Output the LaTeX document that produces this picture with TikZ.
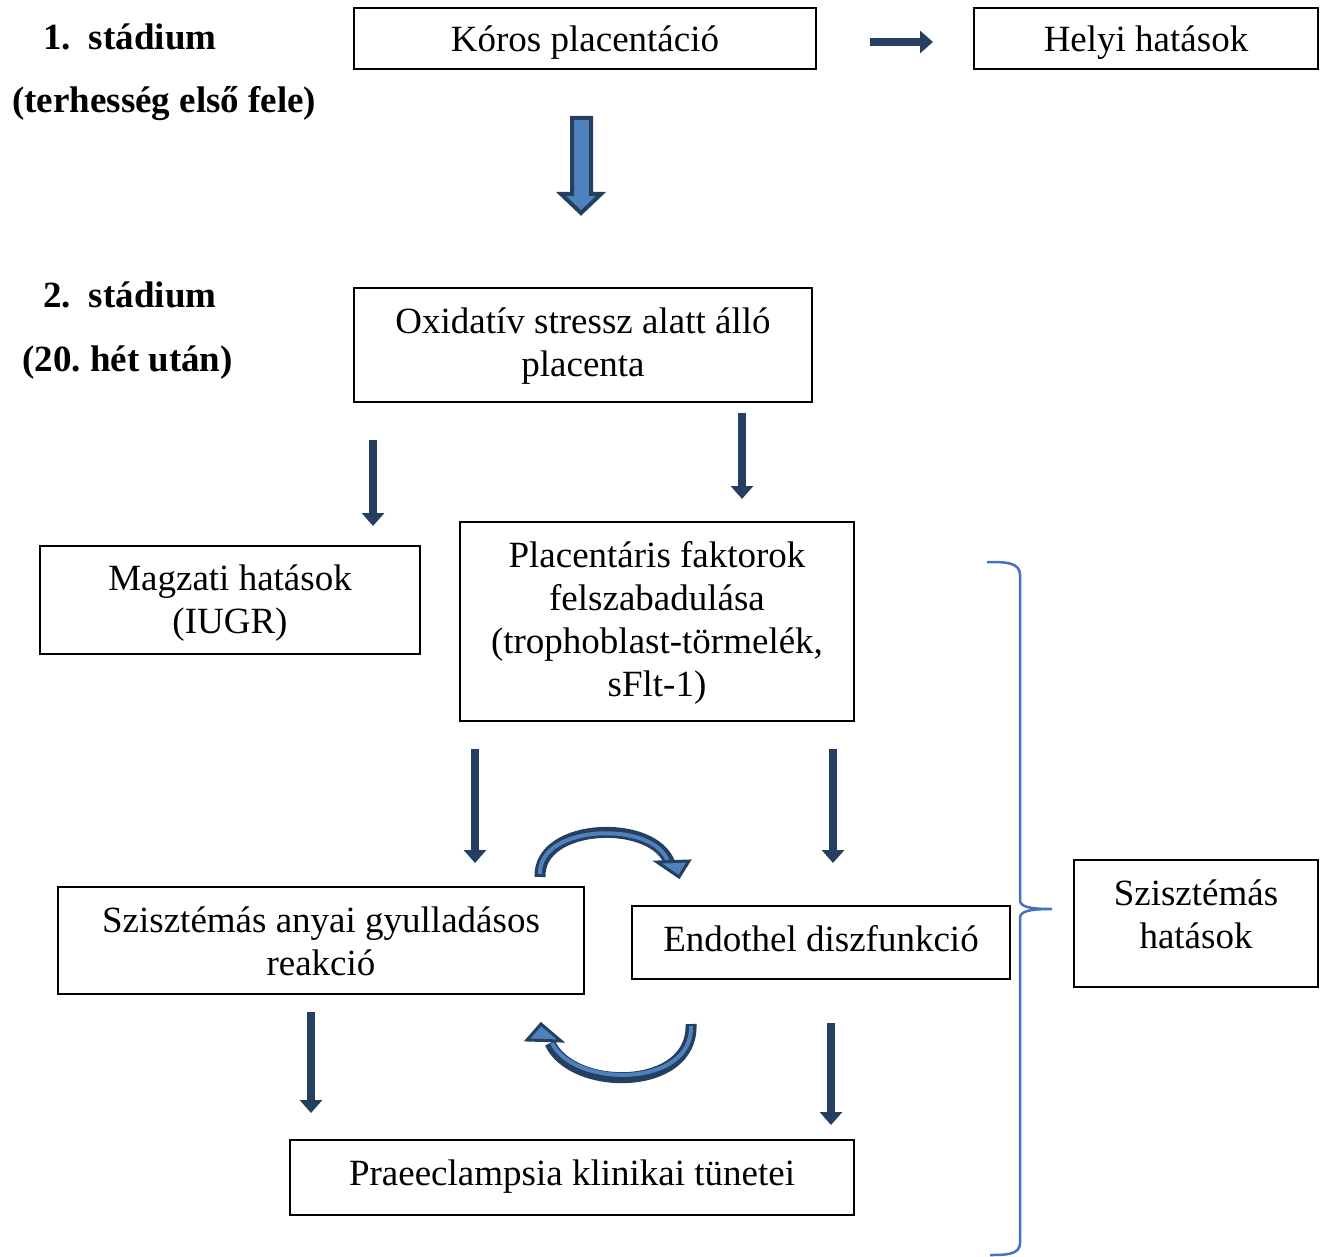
\documentclass[tikz,border=0pt]{standalone}
\usepackage{fontspec}
\setmainfont{Liberation Serif}
\usetikzlibrary{arrows.meta}
\definecolor{darkarrow}{HTML}{243F60}
\definecolor{lightarrow}{HTML}{4F81BD}
\definecolor{bracecol}{HTML}{4472C4}
\newcommand{\boxtext}[2]{\raisebox{#1}[\height][\depth]{\begin{tabular}{@{}c@{}}#2\end{tabular}}}
\frenchspacing
\tikzset{
  box/.style={draw=black, line width=2pt, align=center, inner sep=0pt,
    font=\fontsize{37}{43}\selectfont},
  heading/.style={anchor=base west, inner sep=0pt, font=\fontsize{37}{43}\selectfont\bfseries},
  thinarrow/.style={draw=darkarrow, line width=8pt,
    -{Triangle[width=22pt,length=13pt]}, shorten >=0pt},
  curvedark/.style={draw=darkarrow, line width=11pt},
  curvelight/.style={draw=lightarrow, line width=4pt},
  curvehead/.style={draw=darkarrow, fill=lightarrow, line width=3pt, line join=miter},
}
\begin{document}
\begin{tikzpicture}[x=1pt,y=-1pt]
\useasboundingbox (0,0) rectangle (1324,1257);

% headings
\node[heading] (h1) at (43,50) {1.\hspace{18pt}stádium};
\node[heading] (h1b) at (12,113) {(terhesség első fele)};
\node[heading] (h2) at (43,307) {2.\hspace{18pt}stádium};
\node[heading] (h2b) at (22,371) {(20. hét után)};

% boxes
\node[box, minimum width=462pt, minimum height=61pt] (kp) at (585,38.5) {\boxtext{-4pt}{Kóros placentáció}};
\node[box, minimum width=344pt, minimum height=61pt] (helyi) at (1146,38.5) {\boxtext{-4pt}{Helyi hatások}};
\node[box, minimum width=458pt, minimum height=114pt] (ox) at (583,345) {\boxtext{-1.5pt}{Oxidatív stressz alatt álló\\placenta}};
\node[box, minimum width=380pt, minimum height=108pt] (mag) at (230,600) {\boxtext{-3pt}{Magzati hatások\\(IUGR)}};
\node[box, minimum width=394pt, minimum height=199pt] (plac) at (657,621.5) {\boxtext{-2pt}{Placentáris faktorok\\felszabadulása\\(trophoblast-törmelék,\\sFlt-1)}};
\node[box, minimum width=526pt, minimum height=107pt] (szanyai) at (321,940.5) {\boxtext{-5pt}{Szisztémás anyai gyulladásos\\reakció}};
\node[box, minimum width=378pt, minimum height=73pt] (endo) at (821,942.5) {\boxtext{0pt}{Endothel diszfunkció}};
\node[box, minimum width=244pt, minimum height=127pt] (szh) at (1196,923.5) {\boxtext{5.5pt}{Szisztémás\\hatások}};
\node[box, minimum width=564pt, minimum height=75pt] (prae) at (572,1177.5) {\boxtext{1pt}{Praeeclampsia klinikai tünetei}};

% arrow end points
\coordinate (r1s) at (870,42);  \coordinate (r1e) at (933,42);
\coordinate (d1s) at (373,440); \coordinate (d1e) at (373,526);
\coordinate (d2s) at (742,413); \coordinate (d2e) at (742,499);
\coordinate (d3s) at (475,749); \coordinate (d3e) at (475,863);
\coordinate (d4s) at (833,749); \coordinate (d4e) at (833,863);
\coordinate (d5s) at (311,1012); \coordinate (d5e) at (311,1113);
\coordinate (d6s) at (831,1023); \coordinate (d6e) at (831,1125);

\draw[thinarrow] (r1s) -- (r1e);
\draw[thinarrow] (d1s) -- (d1e);
\draw[thinarrow] (d2s) -- (d2e);
\draw[thinarrow] (d3s) -- (d3e);
\draw[thinarrow] (d4s) -- (d4e);
\draw[thinarrow] (d5s) -- (d5e);
\draw[thinarrow] (d6s) -- (d6e);

% block arrow
\draw[draw=darkarrow, fill=lightarrow, line width=4pt, line join=miter]
  (572,118) -- (591,118) -- (591,194) -- (601,194) -- (581,213) -- (561,194) -- (572,194) -- cycle;

% top curved arrow
\coordinate (ct1) at (540,877);
\coordinate (ct2) at (670,864);
\draw[curvedark] (ct1) .. controls (538,822) and (655,818) .. (ct2);
\draw[curvelight] (540,874) .. controls (538,824) and (655,820) .. (668,862);
\draw[curvehead] (657,862) -- (689,861) -- (679,877) -- cycle;

% bottom curved arrow
\coordinate (cb1) at (691,1024);
\coordinate (cb2) at (550,1043);
\draw[curvedark] (cb1) .. controls (694,1092) and (572,1092) .. (cb2);
\draw[curvelight] (691,1026) .. controls (693,1088) and (574,1088) .. (552,1043);
\draw[curvehead] (527,1040) -- (561,1041) -- (541,1024) -- cycle;

% brace
\draw[bracecol, line width=2.5pt]
  (987,562) .. controls (1005,562) and (1020,562) .. (1020,575)
  -- (1020,900) .. controls (1020,907) and (1030,909) .. (1052,909)
  .. controls (1030,909) and (1020,911) .. (1020,918)
  -- (1020,1243) .. controls (1020,1255) and (1005,1255) .. (990,1255);
\end{tikzpicture}
\end{document}
